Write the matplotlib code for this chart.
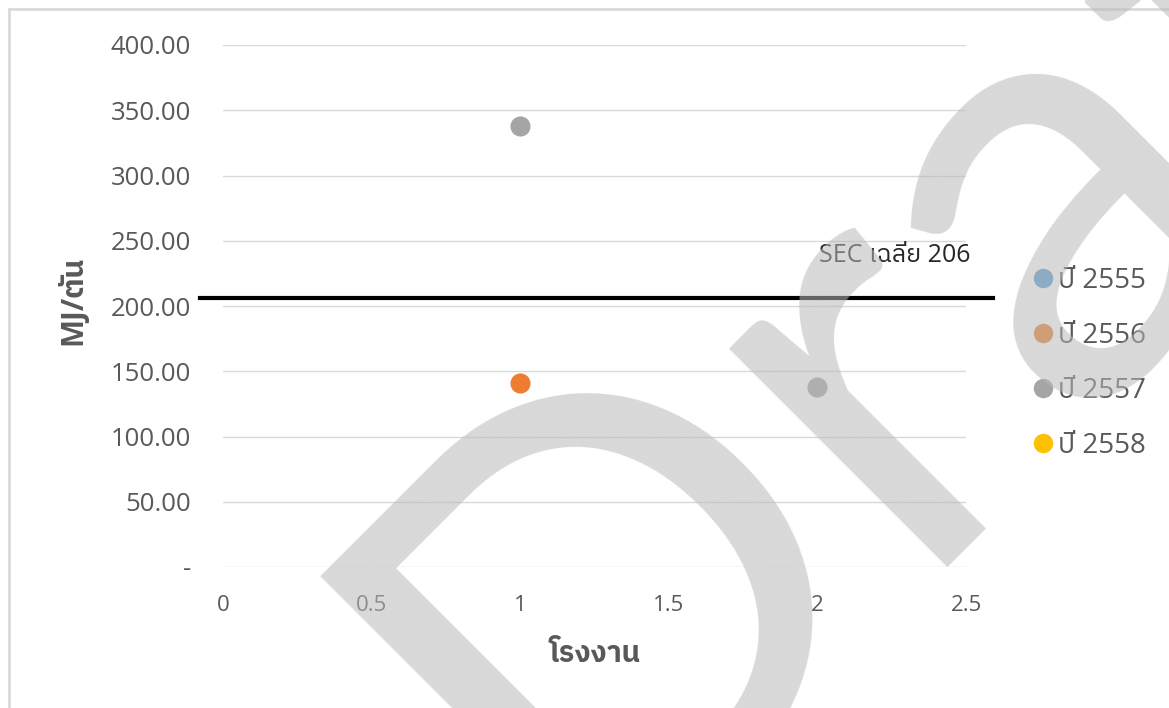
import matplotlib
matplotlib.use("Agg")
import matplotlib.pyplot as plt
from matplotlib import font_manager
from matplotlib.ft2font import FT2Font
from matplotlib.lines import Line2D
from matplotlib.patches import Rectangle

# ---- data ----
series_names = ["ปี 2555", "ปี 2556", "ปี 2557", "ปี 2558"]
series_colors = ["#5B9BD5", "#ED7D31", "#A5A5A5", "#FFC000"]
x_2555, y_2555 = [], []
x_2556, y_2556 = [1], [141]
x_2557, y_2557 = [1, 2], [338, 138]
x_2558, y_2558 = [], []
sec_avg = 206
sec_label = "SEC เฉลี่ย 206"
x_ticks = [0, 0.5, 1, 1.5, 2, 2.5]
x_tick_labels = ["0", "0.5", "1", "1.5", "2", "2.5"]
y_ticks = [0, 50, 100, 150, 200, 250, 300, 350, 400]
y_tick_labels = ["-", "50.00", "100.00", "150.00", "200.00", "250.00",
                 "300.00", "350.00", "400.00"]
x_title = "โรงงาน"
y_title = "MJ/ตัน"
watermark = "Draft"


def find_thai_family():
    fallback = None
    for f in font_manager.fontManager.ttflist:
        try:
            cmap = FT2Font(f.fname).get_charmap()
        except Exception:
            continue
        if 0x0E42 in cmap and 0x0E07 in cmap and 0x0E35 in cmap:
            if "Thai" in f.name and "Looped" not in f.name:
                return f.name
            fallback = fallback or f.name
    return fallback


thai = find_thai_family()
fams = ["Open Sans"] + ([thai] if thai else []) + ["DejaVu Sans"]
plt.rcParams["font.family"] = fams

TICK = "#595959"
W, H = 1169, 708

fig = plt.figure(figsize=(W / 100, H / 100), dpi=100)
ax = fig.add_axes([223 / W, 1 - 567 / H, (966 - 223) / W, (567 - 45) / H])

series = [(x_2555, y_2555), (x_2556, y_2556), (x_2557, y_2557), (x_2558, y_2558)]
for (xs, ys), c in zip(series, series_colors):
    ax.plot(xs, ys, linestyle="none", marker="o", markersize=13.5,
            markerfacecolor=c, markeredgecolor=c, zorder=3)

ax.set_xlim(0, 2.5)
ax.set_ylim(0, 400)
ax.set_xticks(x_ticks, x_tick_labels)
ax.set_yticks(y_ticks, y_tick_labels)
ax.tick_params(length=0, colors=TICK)
ax.tick_params(axis="y", pad=23, labelsize=18.5)
ax.tick_params(axis="x", pad=20, labelsize=16)
for s in ax.spines.values():
    s.set_visible(False)
ax.grid(axis="y", color="#D9D9D9", linewidth=1)
ax.set_axisbelow(True)

# SEC average line, running a little past both ends of the plot area
ax.plot([-0.078, 2.59], [sec_avg, sec_avg], color="black", linewidth=3,
        clip_on=False, zorder=2)
ax.text(2.005, 239, sec_label, fontsize=18, color="#262626",
        ha="left", va="center")

ax.set_xlabel(x_title, fontsize=21, fontweight="bold", color=TICK)
ax.xaxis.set_label_coords((595 - 223) / 743, -(655 - 567) / 522)
ax.xaxis.label.set_va("center")
ax.set_ylabel(y_title, fontsize=21.5, fontweight="bold", color=TICK, va="center")
ax.yaxis.set_label_coords((73 - 223) / 743, (567 - 300) / 522)

handles = [Line2D([], [], linestyle="none", marker="o", markersize=13,
                  markerfacecolor=c, markeredgecolor=c) for c in series_colors]
leg = fig.legend(handles, series_names, loc="center left",
                 bbox_to_anchor=(1021 / W, 1 - 363.5 / H), frameon=False,
                 fontsize=20, labelcolor=TICK, handlelength=0.6,
                 handletextpad=0.25, labelspacing=0.97, borderpad=0)

# chart-area border
fig.patches.append(Rectangle((9 / W, -0.05), 1.2, 1 - 9 / H + 0.05,
                             transform=fig.transFigure, fill=False,
                             edgecolor="#D9D9D9", linewidth=2))

# watermark
fig.text(954 / W, 1 - 261 / H, watermark, fontsize=439,
         color=(185 / 255,) * 3, alpha=0.55, rotation=45,
         rotation_mode="anchor", ha="center", va="center", zorder=10,
         family="Lato")

fig.savefig("out.png", dpi=100)
